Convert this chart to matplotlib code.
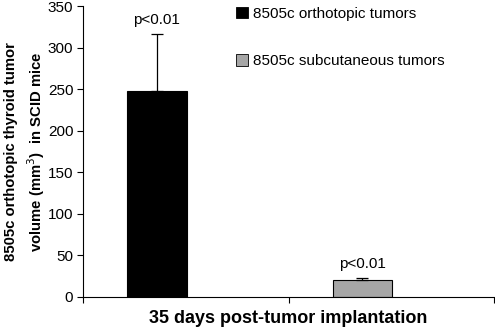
import matplotlib.pyplot as plt
from matplotlib.patches import Patch

plt.rcParams['font.family'] = ['Liberation Sans', 'DejaVu Sans']

series = ['8505c orthotopic tumors', '8505c subcutaneous tumors']
means = [248, 20]
errors = [68, 3]
colors = ['black', '#a6a6a6']
positions = [0.36, 1.36]
labels = ['p<0.01', 'p<0.01']

fig = plt.figure(figsize=(4.95, 3.27), dpi=100)
ax = fig.add_axes([83 / 495, 30 / 327, 411 / 495, 291 / 327])

for x, m, e, c in zip(positions, means, errors, colors):
    ax.bar(x, m, width=0.29, color=c, edgecolor='black', linewidth=0.8)
    ax.errorbar(x, m, yerr=[[0], [e]], fmt='none', ecolor='black',
                elinewidth=0.9, capsize=4, capthick=0.9)
for x, m, e, t in zip(positions, means, errors, labels):
    ax.annotate(t, (x, m + e), xytext=(0, 5), textcoords='offset points',
                ha='center', va='bottom', fontsize=11)

ax.set_xlim(0, 2)
ax.set_ylim(0, 350)
ax.set_xticks([0, 1, 2])
ax.set_xticklabels([])
ax.set_yticks(range(0, 351, 50))
ax.tick_params(axis='y', labelsize=11, length=4, width=0.8, pad=3)
ax.tick_params(axis='x', length=4, width=0.8)
for s in ['top', 'right']:
    ax.spines[s].set_visible(False)
for s in ['left', 'bottom']:
    ax.spines[s].set_linewidth(0.8)

ax.set_xlabel('35 days post-tumor implantation', fontsize=13,
              fontweight='bold', labelpad=2)
ax.set_ylabel('8505c orthotopic thyroid tumor\nvolume (mm$^3$)  in SCID mice',
              fontsize=10.7, fontweight='bold', linespacing=1.4)
ax.yaxis.set_label_coords(-0.088, 0.5)

handles = [Patch(facecolor=c, edgecolor='black', linewidth=0.6) for c in colors]
ax.legend(handles, series, loc='upper left', bbox_to_anchor=(0.34, 1.045),
          frameon=False, fontsize=11, handlelength=0.75, handleheight=0.75,
          handletextpad=0.35, labelspacing=2.2)

fig.savefig('out.png', dpi=100)
